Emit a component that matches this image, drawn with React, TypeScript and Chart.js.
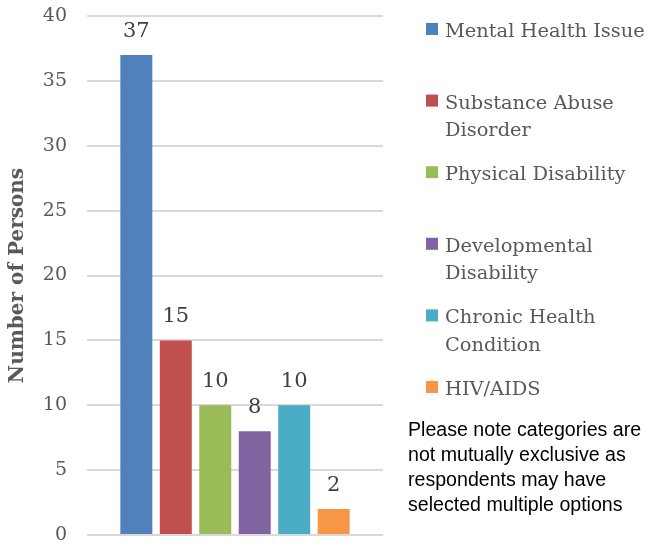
import React, { useEffect, useRef } from "react";
import { Chart, registerables } from "chart.js";

Chart.register(...registerables);

const CATEGORIES: string[] = [""];
const SERIES_NAMES: string[] = [
  "Mental Health Issue",
  "Substance Abuse Disorder",
  "Physical Disability",
  "Developmental Disability",
  "Chronic Health Condition",
  "HIV/AIDS",
];
const LEGEND_LINES: string[][] = [
  ["Mental Health Issue"],
  ["Substance Abuse", "Disorder"],
  ["Physical Disability"],
  ["Developmental", "Disability"],
  ["Chronic Health", "Condition"],
  ["HIV/AIDS"],
];
const SERIES_VALUES: number[] = [37, 15, 10, 8, 10, 2];
const SERIES_COLORS: string[] = ["#4f81bd", "#c0504d", "#9bbb59", "#8064a2", "#4bacc6", "#f79646"];
const NOTE_LINES: string[] = [
  "Please note categories are",
  "not mutually exclusive as",
  "respondents may have",
  "selected multiple options",
];
const Y_TITLE = "Number of Persons";

const SERIF = "'DejaVu Serif', serif";

const overlayPlugin = {
  id: "overlay",
  afterDatasetsDraw(chart: any) {
    const ctx = chart.ctx as CanvasRenderingContext2D;
    ctx.save();
    // data labels
    ctx.font = `21px ${SERIF}`;
    ctx.fillStyle = "#404040";
    ctx.textAlign = "center";
    ctx.textBaseline = "alphabetic";
    chart.data.datasets.forEach((ds: any, i: number) => {
      const meta = chart.getDatasetMeta(i);
      meta.data.forEach((bar: any, j: number) => {
        ctx.fillText(String(ds.data[j]), bar.x, bar.y - 18);
      });
    });
    // legend
    const legendX = 426;
    const boxSize = 12;
    const textX = 445;
    const firstBaseline = 37;
    const itemStep = 71.6;
    const lineStep = 27.5;
    ctx.font = `19.4px ${SERIF}`;
    ctx.textAlign = "left";
    ctx.textBaseline = "alphabetic";
    LEGEND_LINES.forEach((lines, i) => {
      const by = firstBaseline + i * itemStep;
      ctx.fillStyle = SERIES_COLORS[i];
      ctx.fillRect(legendX, by - 8 - boxSize / 2, boxSize, boxSize);
      ctx.fillStyle = "#595959";
      lines.forEach((t, k) => ctx.fillText(t, textX, by + k * lineStep));
    });
    // note
    ctx.font = "19.6px 'Liberation Sans', sans-serif";
    ctx.fillStyle = "#000000";
    NOTE_LINES.forEach((t, k) => ctx.fillText(t, 408, 436 + k * 25));
    ctx.restore();
  },
};

export default function App() {
  const ref = useRef<HTMLCanvasElement | null>(null);
  useEffect(() => {
    if (!ref.current) return;
    const chart = new Chart(ref.current, {
      type: "bar",
      data: {
        labels: CATEGORIES,
        datasets: SERIES_NAMES.map((name, i) => ({
          label: name,
          data: [SERIES_VALUES[i]],
          backgroundColor: SERIES_COLORS[i],
          borderWidth: 0,
          categoryPercentage: 0.8,
          barPercentage: 0.81,
        })),
      },
      options: {
        responsive: false,
        animation: false,
        layout: { padding: { left: 0, right: 264, top: 16, bottom: 12 } },
        plugins: {
          legend: { display: false },
          tooltip: { enabled: false },
          title: { display: false },
        },
        scales: {
          x: { display: false },
          y: {
            min: 0,
            max: 40,
            ticks: {
              stepSize: 5,
              padding: 20,
              color: "#595959",
              font: { family: SERIF, size: 19 },
            },
            grid: { color: "#d9d9d9", lineWidth: 2, drawTicks: false },
            border: { display: false },
            title: {
              display: true,
              text: Y_TITLE,
              color: "#595959",
              font: { family: SERIF, size: 20, weight: "bold" },
              padding: { top: 6, bottom: 0 },
            },
            afterFit(scale: any) {
              scale.width = 87;
              scale.paddingTop = 0;
              scale.paddingBottom = 0;
            },
          },
        },
      },
      plugins: [overlayPlugin],
    });
    return () => chart.destroy();
  }, []);
  return (
    <div style={{ position: "fixed", left: 0, top: 0, width: 647, height: 547, background: "#fff" }}>
      <canvas ref={ref} width={647} height={547} />
    </div>
  );
}
